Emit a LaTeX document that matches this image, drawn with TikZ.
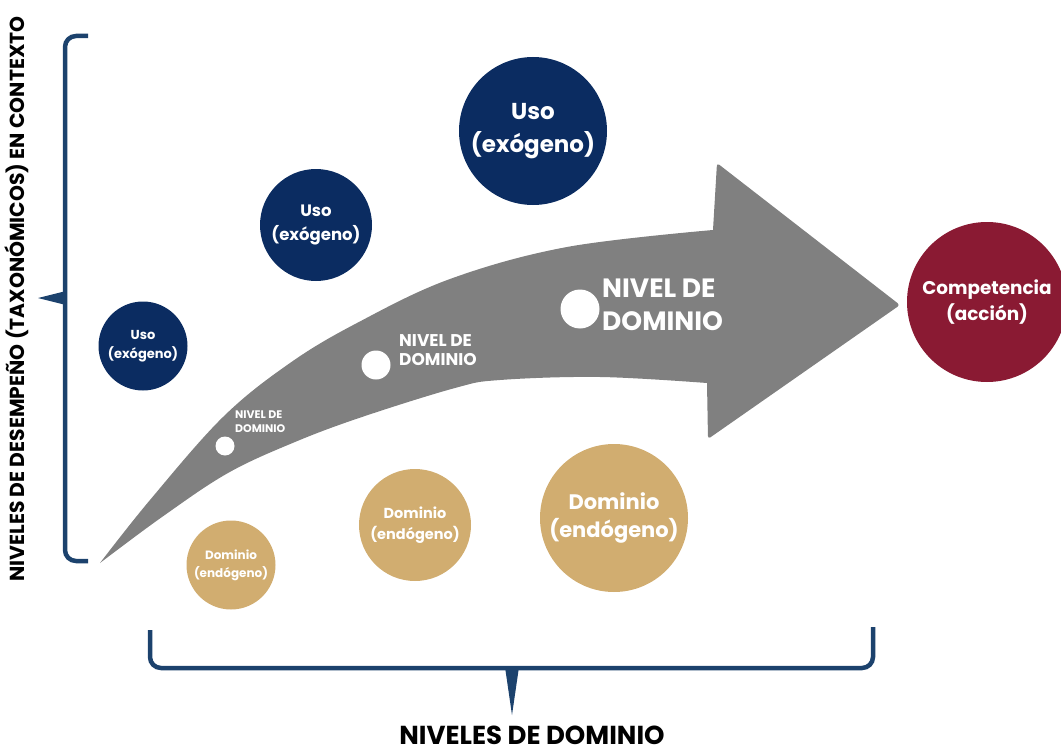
\documentclass[tikz,border=0pt]{standalone}
\usepackage{fontspec}
\setmainfont{Poppins}
\definecolor{navy}{HTML}{0B2C61}
\definecolor{tan}{HTML}{D1AD70}
\definecolor{maroon}{HTML}{8A1A33}
\definecolor{arrowgray}{HTML}{808080}
\definecolor{brk}{HTML}{1C426D}
\newcommand{\fs}[2]{\fontsize{#1}{#2}\selectfont\bfseries}
\tikzset{
  bubble/.style={circle, inner sep=0pt, align=center, text=white},
  navycirc/.style={bubble, fill=navy},
  tancirc/.style={bubble, fill=tan},
  maroncirc/.style={bubble, fill=maroon},
  dot/.style={circle, fill=white, inner sep=0pt},
  lvl/.style={text=white, align=left, anchor=west, inner sep=0pt},
  bracket/.style={draw=brk, line width=4.5pt, rounded corners=11pt},
}
\begin{document}
\begin{tikzpicture}[x=1pt, y=-1pt]
\useasboundingbox (0,0) rectangle (1061,752);

% brackets
\draw[bracket] (88,36) -- (65,36) -- (65,561) -- (88,561);
\fill[brk] (66,291) -- (38,298) -- (66,305) -- cycle;
\draw[bracket] (150,630) -- (150,668) -- (873,668) -- (873,627);
\fill[brk] (505,667) -- (512,715) -- (519,667) -- cycle;

% arrow
\fill[arrowgray] plot[smooth, tension=0.6] coordinates {(100,563) (150,500) (223,417) (290,363) (357,323) (450,279) (567,247) (713,230)}
  [rounded corners=3pt] -- (717,163) -- (900,305) -- (708,439) [sharp corners] -- (707,383)
  -- plot[smooth, tension=0.6] coordinates {(707,383) (600,377) (500,380) (455,388) (362,417) (295,442) (228,473) (162,517) (100,563)} -- cycle;

% dots and level labels
\node[dot, minimum size=19pt] (d1) at (225,446) {};
\node[dot, minimum size=29pt] (d2) at (376,365) {};
\node[dot, minimum size=39pt] (d3) at (580,309) {};
\node[lvl, font=\fs{11}{14}] (l1) at (235,422) {NIVEL DE\\DOMINIO};
\node[lvl, font=\fs{17}{19.5}] (l2) at (399,350) {NIVEL DE\\DOMINIO};
\node[lvl, font=\fs{26.5}{33}] (l3) at (602,305) {NIVEL DE\\DOMINIO};

% uso circles
\node[navycirc, minimum size=89pt, font=\fs{13}{19}] (u1) at (143,346) {Uso\\(exógeno)};
\node[navycirc, minimum size=112pt, font=\fs{16.5}{24}] (u2) at (316,225) {Uso\\(exógeno)};
\node[navycirc, minimum size=148pt, font=\fs{23}{33}] (u3) at (533,131) {Uso\\(exógeno)};

% dominio circles
\node[tancirc, minimum size=89pt, font=\fs{12}{18}] (e1) at (231,565) {Dominio\\(endógeno)};
\node[tancirc, minimum size=112pt, font=\fs{14.5}{20.5}] (e2) at (415,525) {Dominio\\(endógeno)};
\node[tancirc, minimum size=148pt, font=\fs{21}{28}] (e3) at (614,518) {Dominio\\(endógeno)};

% competencia
\node[maroncirc, minimum size=160pt, font=\fs{18.4}{26}] (c) at (987,302) {Competencia\\(acción)};

% axis labels
\node[rotate=90, font=\fs{20.3}{24}, inner sep=0pt] (ylab) at (17,299) {NIVELES DE DESEMPEÑO (TAXONÓMICOS) EN CONTEXTO};
\node[font=\fs{26}{28}, inner sep=0pt, text depth=0pt, anchor=base] (xlab) at (532,744) {NIVELES DE DOMINIO};
\end{tikzpicture}
\end{document}
